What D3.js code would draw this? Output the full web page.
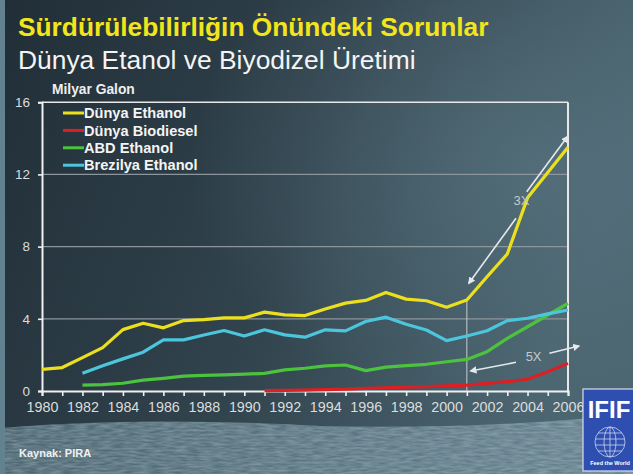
<!DOCTYPE html>
<html>
<head>
<meta charset="utf-8">
<script src="https://cdn.jsdelivr.net/npm/d3@7"></script>
<style>
  html, body { margin: 0; padding: 0; background: #2b3a44; }
  svg { display: block; }
</style>
</head>
<body>
<svg id="chart" width="633" height="474"></svg>
<script>
// Years on the x axis
var years = [1980, 1981, 1982, 1983, 1984, 1985, 1986, 1987, 1988, 1989, 1990, 1991, 1992,
  1993, 1994, 1995, 1996, 1997, 1998, 1999, 2000, 2001, 2002, 2003, 2004, 2005, 2006]
var yTicks = [0, 4, 8, 12, 16]
var xTickLabels = [1980, 1982, 1984, 1986, 1988, 1990, 1992, 1994, 1996, 1998, 2000, 2002, 2004, 2006]

// Series values, billion gallons
var dunyaEthanol = [1.2, 1.3, 1.85, 2.4, 3.4, 3.75, 3.5, 3.9, 3.95, 4.05, 4.05, 4.37, 4.22,
  4.18, 4.54, 4.87, 5.02, 5.46, 5.09, 5.0, 4.64, 5.04, 6.33, 7.59, 10.7, 12.1, 13.5]
var dunyaBiodiesel = [0.02, 0.03, 0.05, 0.08, 0.1, 0.15, 0.18, 0.22, 0.24, 0.28, 0.33, 0.42,
  0.52, 0.65, 1.07, 1.53] // from 1991
var abdEthanol = [0.33, 0.35, 0.43, 0.6, 0.7, 0.82, 0.87, 0.89, 0.93, 0.98, 1.17, 1.26, 1.39,
  1.44, 1.13, 1.32, 1.41, 1.48, 1.62, 1.75, 2.18, 2.92, 3.56, 4.21, 4.86] // from 1982
var brezilyaEthanol = [0.98, 1.4, 1.78, 2.15, 2.83, 2.83, 3.1, 3.35, 3.05, 3.39, 3.11, 2.98,
  3.39, 3.33, 3.85, 4.09, 3.7, 3.38, 2.79, 3.05, 3.34, 3.9, 4.03, 4.27, 4.49] // from 1982

var seriesNames = ['Dünya Ethanol', 'Dünya Biodiesel', 'ABD Ethanol', 'Brezilya Ethanol']
var seriesColors = ['#ece01e', '#dc1f22', '#4cc23e', '#4cc6dc']
var seriesValues = [dunyaEthanol, dunyaBiodiesel, abdEthanol, brezilyaEthanol]
var seriesStart = [1980, 1991, 1982, 1982]

// Arrow annotations in data units: [x1, y1, x2, y2], head at the second point
var arrows = [
  [2003.43, 9.57, 2001.1, 5.97],
  [2003.96, 11.04, 2005.97, 14.09],
  [2003.43, 1.59, 2001.19, 1.11],
  [2005.08, 2.09, 2006.54, 2.49]
]
var arrowLabels = [['3X', 2003.7, 10.5], ['5X', 2004.3, 1.87]]

var svg = d3.select('#chart')
var W = 633, H = 474

// ---- background ----
var defs = svg.append('defs')
var bgGrad = defs.append('linearGradient').attr('id', 'bg').attr('x1', 0).attr('y1', 0).attr('x2', 1).attr('y2', 0.3)
bgGrad.append('stop').attr('offset', '0%').attr('stop-color', '#212e37')
bgGrad.append('stop').attr('offset', '55%').attr('stop-color', '#31434d')
bgGrad.append('stop').attr('offset', '100%').attr('stop-color', '#4b6570')

var glow = defs.append('radialGradient').attr('id', 'glow').attr('cx', 0.85).attr('cy', 0.35).attr('r', 0.55)
glow.append('stop').attr('offset', '0%').attr('stop-color', '#587480').attr('stop-opacity', 0.7)
glow.append('stop').attr('offset', '100%').attr('stop-color', '#587480').attr('stop-opacity', 0)

var floorGrad = defs.append('linearGradient').attr('id', 'floor').attr('x1', 0).attr('y1', 0).attr('x2', 1).attr('y2', 0)
floorGrad.append('stop').attr('offset', '0%').attr('stop-color', '#4c6672')
floorGrad.append('stop').attr('offset', '50%').attr('stop-color', '#5a7581')
floorGrad.append('stop').attr('offset', '100%').attr('stop-color', '#66828e')

var noise = defs.append('filter').attr('id', 'noise').attr('x', 0).attr('y', 0).attr('width', 1).attr('height', 1)
noise.append('feTurbulence').attr('type', 'fractalNoise').attr('baseFrequency', '0.08 0.5').attr('numOctaves', 2).attr('seed', 3)
noise.append('feColorMatrix').attr('type', 'matrix')
  .attr('values', '0 0 0 0 0.78  0 0 0 0 0.87  0 0 0 0 0.92  0 0 0 0.45 -0.1')
noise.append('feComposite').attr('in2', 'SourceGraphic').attr('operator', 'in')

svg.append('rect').attr('width', W).attr('height', H).attr('fill', 'url(#bg)')
svg.append('rect').attr('width', W).attr('height', H).attr('fill', 'url(#glow)')

var floorPath = 'M0,428 Q140,416 320,426 Q480,430 633,414 L633,474 L0,474 Z'
svg.append('path').attr('d', floorPath).attr('fill', 'url(#floor)')
svg.append('path').attr('d', floorPath).attr('fill', '#fff').attr('filter', 'url(#noise)')
svg.append('rect').attr('x', 0).attr('y', 0).attr('width', 5).attr('height', H).attr('fill', '#62828f')

// ---- titles ----
svg.append('text').attr('x', 18).attr('y', 36)
  .attr('font-family', 'Liberation Sans, Arial, sans-serif').attr('font-weight', 'bold')
  .attr('font-size', 26.3).attr('fill', '#f3e51c')
  .text('Sürdürülebilirliğin Önündeki Sorunlar')
svg.append('text').attr('x', 18).attr('y', 69)
  .attr('font-family', 'Liberation Sans, Arial, sans-serif')
  .attr('font-size', 26.4).attr('fill', '#f4f4f4')
  .text('Dünya Etanol ve Biyodizel Üretimi')
svg.append('text').attr('x', 52).attr('y', 94)
  .attr('font-family', 'Liberation Sans, Arial, sans-serif').attr('font-weight', 'bold')
  .attr('font-size', 13.8).attr('fill', '#eeeeee')
  .text('Milyar Galon')

// ---- scales ----
var x = d3.scaleLinear().domain([1980, 2006]).range([42, 568])
var y = d3.scaleLinear().domain([0, 16]).range([391, 102.2])

var plot = svg.append('g')

// gridlines
plot.selectAll('.grid').data(yTicks.filter(function(d) { return d > 0 && d < 16 }))
  .enter().append('line')
  .attr('x1', x(1980)).attr('x2', x(2006))
  .attr('y1', function(d) { return y(d) }).attr('y2', function(d) { return y(d) })
  .attr('stroke', '#8c959b').attr('stroke-width', 1.2)

// frame: top and right
plot.append('line').attr('x1', x(1980)).attr('x2', x(2006)).attr('y1', y(16)).attr('y2', y(16))
  .attr('stroke', '#e8e8e8').attr('stroke-width', 1.6)
plot.append('line').attr('x1', x(2006)).attr('x2', x(2006)).attr('y1', y(16)).attr('y2', y(0))
  .attr('stroke', '#e8e8e8').attr('stroke-width', 2)

// axes
var yAxis = d3.axisLeft(y).tickValues(yTicks).tickSize(4).tickPadding(8)
var xAxis = d3.axisBottom(x).tickValues(years).tickSize(5).tickPadding(6)
  .tickFormat(function(d) { return xTickLabels.indexOf(d) >= 0 ? d : '' })

var gy = plot.append('g').attr('transform', 'translate(' + x(1980) + ',0)').call(yAxis)
var gx = plot.append('g').attr('transform', 'translate(0,' + y(0) + ')').call(xAxis)
;[gx, gy].forEach(function(g) {
  g.select('.domain').attr('stroke', '#f0f0f0').attr('stroke-width', 2)
  g.selectAll('.tick line').attr('stroke', '#f0f0f0').attr('stroke-width', 1.6)
  g.selectAll('text').attr('fill', '#dcdcdc').attr('font-size', 14.3)
    .attr('font-family', 'Liberation Sans, Arial, sans-serif')
})
gy.selectAll('text').attr('font-size', 13.5)

// reference line at 2001
plot.append('line').attr('x1', x(2001)).attr('x2', x(2001))
  .attr('y1', y(dunyaEthanol[years.indexOf(2001)])).attr('y2', y(0))
  .attr('stroke', '#c8ccd0').attr('stroke-width', 1)

// ---- series ----
var line = d3.line().x(function(d) { return x(d[0]) }).y(function(d) { return y(d[1]) })
var drawOrder = [2, 3, 1, 0]
drawOrder.forEach(function(i) {
  var pts = seriesValues[i].map(function(v, k) { return [seriesStart[i] + k, v] })
  plot.append('path').datum(pts).attr('d', line)
    .attr('fill', 'none').attr('stroke', seriesColors[i]).attr('stroke-width', 3.2)
    .attr('stroke-linejoin', 'round').attr('stroke-linecap', 'butt')
})

// ---- annotations ----
defs.append('marker').attr('id', 'head').attr('viewBox', '0 0 10 10').attr('refX', 8).attr('refY', 5)
  .attr('markerWidth', 4.5).attr('markerHeight', 4.5).attr('orient', 'auto')
  .append('path').attr('d', 'M0,0 L10,5 L0,10 Z').attr('fill', '#e6e9ec')

plot.selectAll('.arrow').data(arrows).enter().append('line')
  .attr('x1', function(d) { return x(d[0]) }).attr('y1', function(d) { return y(d[1]) })
  .attr('x2', function(d) { return x(d[2]) }).attr('y2', function(d) { return y(d[3]) })
  .attr('stroke', '#e6e9ec').attr('stroke-width', 1.6).attr('marker-end', 'url(#head)')

plot.selectAll('.alabel').data(arrowLabels).enter().append('text')
  .attr('x', function(d) { return x(d[1]) }).attr('y', function(d) { return y(d[2]) })
  .attr('text-anchor', 'middle').attr('dominant-baseline', 'middle')
  .attr('font-family', 'Liberation Sans, Arial, sans-serif').attr('font-size', 13)
  .attr('fill', '#c4cacf').text(function(d) { return d[0] })

// ---- legend ----
var legend = svg.append('g').attr('transform', 'translate(63,113)')
var rows = legend.selectAll('g').data(seriesNames).enter().append('g')
  .attr('transform', function(d, i) { return 'translate(0,' + (i * 17.4) + ')' })
rows.append('line').attr('x1', 0).attr('x2', 21).attr('y1', 0).attr('y2', 0)
  .attr('stroke', function(d, i) { return seriesColors[i] }).attr('stroke-width', 3)
rows.append('text').attr('x', 21).attr('y', 0).attr('dy', '0.35em')
  .attr('font-family', 'Liberation Sans, Arial, sans-serif').attr('font-weight', 'bold')
  .attr('font-size', 14.6).attr('fill', '#f4f4f4').text(function(d) { return d })

// ---- source + logo ----
svg.append('text').attr('x', 19).attr('y', 457)
  .attr('font-family', 'Liberation Sans, Arial, sans-serif').attr('font-weight', 'bold')
  .attr('font-size', 11).attr('fill', '#f0f0f0').text('Kaynak: PIRA')

var logo = svg.append('g').attr('transform', 'translate(583,389)')
logo.append('rect').attr('width', 56).attr('height', 82).attr('fill', '#2f4fb0')
  .attr('stroke', '#d8dcef').attr('stroke-width', 1.2)
logo.append('text').attr('x', 26).attr('y', 29).attr('text-anchor', 'middle')
  .attr('font-family', 'Liberation Sans Narrow, Liberation Sans, Arial, sans-serif').attr('font-weight', 'bold')
  .attr('font-size', 24).attr('fill', '#ffffff').text('IFIF')
var globe = logo.append('g').attr('transform', 'translate(27,53)')
  .attr('fill', 'none').attr('stroke', '#c9d2f0').attr('stroke-width', 0.8)
globe.append('circle').attr('r', 15)
globe.append('ellipse').attr('rx', 6).attr('ry', 15)
globe.append('line').attr('x1', 0).attr('x2', 0).attr('y1', -15).attr('y2', 15)
;[-9, -3, 3, 9].forEach(function(dy) {
  var hw = Math.sqrt(225 - dy * dy)
  globe.append('line').attr('x1', -hw).attr('x2', hw).attr('y1', dy).attr('y2', dy)
})
logo.append('text').attr('x', 27).attr('y', 76).attr('text-anchor', 'middle')
  .attr('font-family', 'Liberation Sans, Arial, sans-serif').attr('font-weight', 'bold')
  .attr('font-size', 5.5).attr('fill', '#ffffff').text('Feed the World')
</script>
</body>
</html>
